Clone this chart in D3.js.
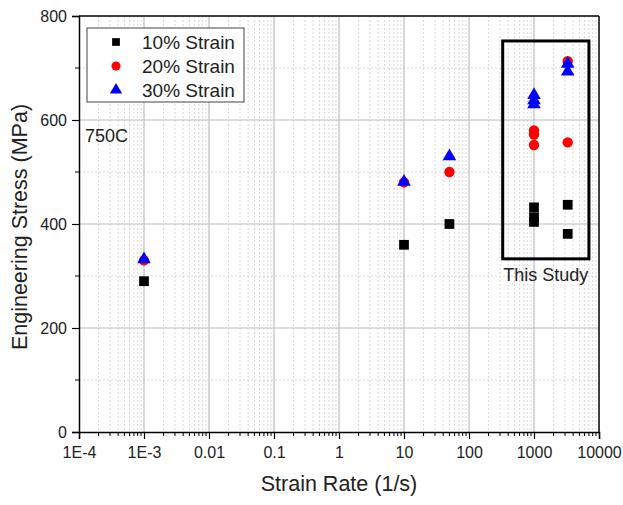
<!DOCTYPE html>
<html>
<head>
<meta charset="utf-8">
<script src="https://cdn.jsdelivr.net/npm/d3@7"></script>
<style>
  body { margin: 0; background: #fff; }
  text { font-family: "Liberation Sans", Arial, sans-serif; fill: #222; }
</style>
</head>
<body>
<div id="chart"></div>
<script>
// strain rate (1/s) for each point and the stress (MPa)
const strain10 = [
  { rate: 1e-3, stress: 290 },
  { rate: 10, stress: 360 },
  { rate: 50, stress: 400 },
  { rate: 1000, stress: 432 },
  { rate: 1000, stress: 413 },
  { rate: 1000, stress: 404 },
  { rate: 3300, stress: 437 },
  { rate: 3300, stress: 381 },
];
const strain20 = [
  { rate: 1e-3, stress: 330 },
  { rate: 10, stress: 480 },
  { rate: 50, stress: 500 },
  { rate: 1000, stress: 580 },
  { rate: 1000, stress: 572 },
  { rate: 1000, stress: 552 },
  { rate: 3300, stress: 713 },
  { rate: 3300, stress: 557 },
];
const strain30 = [
  { rate: 1e-3, stress: 332 },
  { rate: 10, stress: 481 },
  { rate: 50, stress: 530 },
  { rate: 1000, stress: 648 },
  { rate: 1000, stress: 638 },
  { rate: 1000, stress: 630 },
  { rate: 3300, stress: 708 },
  { rate: 3300, stress: 693 },
];
const xTicks = [1e-4, 1e-3, 0.01, 0.1, 1, 10, 100, 1000, 10000];
const xTickLabels = ['1E-4', '1E-3', '0.01', '0.1', '1', '10', '100', '1000', '10000'];
const yTicks = [0, 200, 400, 600, 800];
const yMinor = [100, 300, 500, 700];
// "This Study" box corners in data units
const studyBox = { x0: 330, x1: 7000, y0: 333, y1: 752 };

const width = 623, height = 505;
const margin = { top: 16, right: 24, bottom: 73, left: 79 };
const innerW = width - margin.left - margin.right;
const innerH = height - margin.top - margin.bottom;

const x = d3.scaleLog().domain([1e-4, 1e4]).range([0, innerW]);
const y = d3.scaleLinear().domain([0, 800]).range([innerH, 0]);

const svg = d3.select('#chart').append('svg')
  .attr('width', width)
  .attr('height', height);

const g = svg.append('g')
  .attr('transform', `translate(${margin.left},${margin.top})`);

// minor grid (dotted) for x: 2..9 within each decade
const minorX = [];
for (let e = -4; e < 4; e++) {
  for (let k = 2; k <= 9; k++) minorX.push(k * 10 ** e);
}

g.append('g')
  .selectAll('line')
  .data(minorX)
  .join('line')
  .attr('x1', (d) => x(d)).attr('x2', (d) => x(d))
  .attr('y1', 0).attr('y2', innerH)
  .attr('stroke', '#d8d8d8')
  .attr('stroke-dasharray', '2,2')
  .attr('stroke-width', 1);

g.append('g')
  .selectAll('line')
  .data(yMinor)
  .join('line')
  .attr('x1', 0).attr('x2', innerW)
  .attr('y1', (d) => y(d)).attr('y2', (d) => y(d))
  .attr('stroke', '#d8d8d8')
  .attr('stroke-dasharray', '2,2')
  .attr('stroke-width', 1);

// major grid (solid)
g.append('g')
  .selectAll('line')
  .data(xTicks.slice(1, -1))
  .join('line')
  .attr('x1', (d) => x(d)).attr('x2', (d) => x(d))
  .attr('y1', 0).attr('y2', innerH)
  .attr('stroke', '#bdbdbd')
  .attr('stroke-width', 1.2);

g.append('g')
  .selectAll('line')
  .data(yTicks.slice(1, -1))
  .join('line')
  .attr('x1', 0).attr('x2', innerW)
  .attr('y1', (d) => y(d)).attr('y2', (d) => y(d))
  .attr('stroke', '#bdbdbd')
  .attr('stroke-width', 1.2);

// frame: top and right
g.append('line')
  .attr('x1', 0).attr('x2', innerW).attr('y1', 0).attr('y2', 0)
  .attr('stroke', '#000').attr('stroke-width', 1.5);
g.append('line')
  .attr('x1', innerW).attr('x2', innerW).attr('y1', 0).attr('y2', innerH)
  .attr('stroke', '#000').attr('stroke-width', 1.5);

// x axis
const xAxis = g.append('g')
  .attr('transform', `translate(0,${innerH})`)
  .call(d3.axisBottom(x)
    .tickValues(xTicks)
    .tickFormat((d, i) => xTickLabels[i])
    .tickSize(7)
    .tickPadding(8));
xAxis.append('g')
  .selectAll('line')
  .data(minorX)
  .join('line')
  .attr('x1', (d) => x(d)).attr('x2', (d) => x(d))
  .attr('y1', 0).attr('y2', 4)
  .attr('stroke', '#000');

// y axis
const yAxis = g.append('g')
  .call(d3.axisLeft(y)
    .tickValues(yTicks)
    .tickSize(7)
    .tickPadding(5));
yAxis.append('g')
  .selectAll('line')
  .data(yMinor)
  .join('line')
  .attr('x1', 0).attr('x2', -4)
  .attr('y1', (d) => y(d)).attr('y2', (d) => y(d))
  .attr('stroke', '#000');

[xAxis, yAxis].forEach((ax) => {
  ax.select('.domain').attr('stroke', '#000').attr('stroke-width', 1.5);
  ax.selectAll('.tick line').attr('stroke', '#000').attr('stroke-width', 1.2);
  ax.selectAll('.tick text').attr('font-size', 16).attr('fill', '#222');
});

// axis titles
svg.append('text')
  .attr('x', margin.left + innerW / 2)
  .attr('y', 491)
  .attr('text-anchor', 'middle')
  .attr('font-size', 21.5)
  .text('Strain Rate (1/s)');

svg.append('text')
  .attr('transform', `translate(27,${margin.top + innerH / 2 + 3}) rotate(-90)`)
  .attr('text-anchor', 'middle')
  .attr('font-size', 21.5)
  .text('Engineering Stress (MPa)');

// study box
g.append('rect')
  .attr('x', x(studyBox.x0))
  .attr('y', y(studyBox.y1))
  .attr('width', x(studyBox.x1) - x(studyBox.x0))
  .attr('height', y(studyBox.y0) - y(studyBox.y1))
  .attr('fill', 'none')
  .attr('stroke', '#000')
  .attr('stroke-width', 3);

g.append('text')
  .attr('x', (x(studyBox.x0) + x(studyBox.x1)) / 2)
  .attr('y', y(studyBox.y0) + 22)
  .attr('text-anchor', 'middle')
  .attr('font-family', '"Open Sans", sans-serif')
  .attr('font-size', 18)
  .text('This Study');

g.append('text')
  .attr('x', 6)
  .attr('y', y(600) + 22)
  .attr('font-size', 18)
  .text('750C');

// markers
const square = d3.symbol().type(d3.symbolSquare).size(95);
const circle = d3.symbol().type(d3.symbolCircle).size(85);
const triangle = d3.symbol().type(d3.symbolTriangle).size(80);

const series = [
  { data: strain10, sym: square, color: '#000', label: '10% Strain' },
  { data: strain20, sym: circle, color: '#f00', label: '20% Strain' },
  { data: strain30, sym: triangle, color: '#00f', label: '30% Strain' },
];

series.forEach((s) => {
  g.append('g')
    .selectAll('path')
    .data(s.data)
    .join('path')
    .attr('d', s.sym)
    .attr('fill', s.color)
    .attr('transform', (d) => `translate(${x(d.rate)},${y(d.stress)})`);
});

// legend
const legend = svg.append('g').attr('transform', 'translate(87,28)');
legend.append('rect')
  .attr('width', 157).attr('height', 74)
  .attr('fill', '#fff')
  .attr('stroke', '#444')
  .attr('stroke-width', 1);
series.forEach((s, i) => {
  legend.append('path')
    .attr('d', s.sym.size(i === 0 ? 60 : 65)())
    .attr('fill', s.color)
    .attr('transform', `translate(29,${14 + i * 24})`);
  legend.append('text')
    .attr('x', 55)
    .attr('y', 14 + i * 24)
    .attr('dy', '0.36em')
    .attr('font-size', 19)
    .text(s.label);
});
</script>
</body>
</html>
